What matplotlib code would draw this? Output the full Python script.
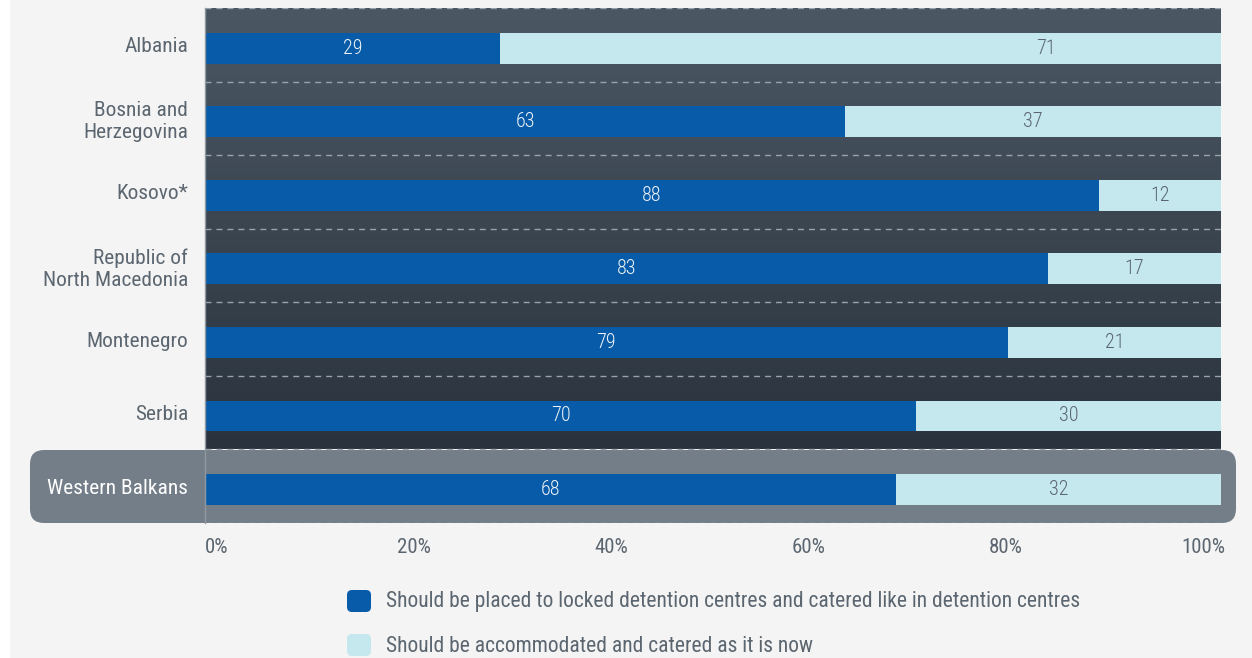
import numpy as np
import matplotlib
matplotlib.use("Agg")
import matplotlib.pyplot as plt
from matplotlib import font_manager as fm
from matplotlib.patches import FancyBboxPatch, Rectangle
from matplotlib.colors import LinearSegmentedColormap
from matplotlib.transforms import ScaledTranslation

# ---------------- data ----------------
countries = ["Albania", "Bosnia and\nHerzegovina", "Kosovo*",
             "Republic of\nNorth Macedonia", "Montenegro", "Serbia",
             "Western Balkans"]
locked = [29, 63, 88, 83, 79, 70, 68]
as_now = [71, 37, 12, 17, 21, 30, 32]
series_labels = [
    "Should be placed to locked detention centres and catered like in detention centres",
    "Should be accommodated and catered as it is now",
]
xticks = [0, 20, 40, 60, 80, 100]
xtick_labels = ["0%", "20%", "40%", "60%", "80%", "100%"]

# ---------------- style ----------------
names = {f.name for f in fm.fontManager.ttflist}
FONT = "Roboto Condensed" if "Roboto Condensed" in names else "Roboto"
plt.rcParams["font.family"] = [FONT, "DejaVu Sans"]

W, H, DPI = 1252, 658, 100
C_DARK = "#075ba8"
C_LIGHT = "#c4e8ee"
C_TEXT = "#5b6670"
C_BOX = "#737e88"
C_DASH = "#9aa3ab"
BG = "#f4f4f4"

fig = plt.figure(figsize=(W / DPI, H / DPI), dpi=DPI, facecolor="white")
fig.add_artist(Rectangle((10 / W, 0), 1 - 10 / W, 1, transform=fig.transFigure,
                         facecolor=BG, edgecolor="none", zorder=-3))

# highlighted box for the last row
fig.add_artist(FancyBboxPatch((0.30, (H - 523) / DPI), 12.06, 0.73,
                              boxstyle="round,pad=0,rounding_size=0.14",
                              transform=fig.dpi_scale_trans,
                              facecolor=C_BOX, edgecolor="none", zorder=-1))

ax = fig.add_axes([205 / W, (H - 523) / H, 1016 / W, 515 / H])
ax.set_facecolor("none")

n = len(countries)
y = np.arange(n)

# gradient background for country rows
cmap = LinearSegmentedColormap.from_list("g", ["#4b5864", "#2a333d"])
grad = np.linspace(0, 1, 256).reshape(-1, 1)
ax.imshow(grad, extent=(0, 100, n - 1.5, -0.5), aspect="auto", cmap=cmap,
          origin="upper", zorder=0, interpolation="bilinear")

for yb in np.arange(-0.5, n, 1.0):
    ax.axhline(yb, color=C_DASH, lw=1.0, dashes=(4.3, 3.6), zorder=1)

yy = y + 0.045
ax.barh(yy, locked, height=0.42, color=C_DARK, zorder=2)
ax.barh(yy, as_now, left=locked, height=0.42, color=C_LIGHT, zorder=2)

# value labels centred in segments (the reference draws Albania's light-segment
# label further right, towards the end of the bar)
light_label_nudge = {0: 18.3}
for i, (yi, a, b) in enumerate(zip(yy, locked, as_now)):
    ax.text(a / 2, yi, str(a), ha="center", va="center", color="#eef3f8",
            fontsize=14.5, fontweight="light", zorder=3)
    ax.text(a + b / 2 + light_label_nudge.get(i, 0), yi, str(b), ha="center",
            va="center", color=C_TEXT, fontsize=14.5, fontweight="light", zorder=3)

ax.set_xlim(0, 100)
ax.set_ylim(n - 0.5, -0.5)
for s in ["top", "right", "bottom"]:
    ax.spines[s].set_visible(False)
ax.spines["left"].set_color("#8f98a0")
ax.spines["left"].set_linewidth(1.0)
ax.spines["left"].set_zorder(4)

ax.set_yticks(y)
ax.set_yticklabels(countries, fontsize=15.4, color=C_TEXT, linespacing=1.2)
ax.get_yticklabels()[-1].set_color("white")
ax.tick_params(axis="y", length=0, pad=12)

ax.set_xticks(xticks)
ax.set_xticklabels(xtick_labels, fontsize=15, color=C_TEXT)
ax.tick_params(axis="x", length=0, pad=10.5)

# spread the tick labels evenly: first left-aligned, last right-aligned
fig.canvas.draw()
r = fig.canvas.get_renderer()
labs = ax.get_xticklabels()
bbs = [t.get_window_extent(r) for t in labs]
tick_px = [ax.transData.transform((v, 0))[0] for v in xticks]
c0 = tick_px[0] + bbs[0].width / 2
c1 = tick_px[-1] + 4 - bbs[-1].width / 2
k = len(xticks) - 1
for i, t in enumerate(labs):
    target = c0 + i * (c1 - c0) / k
    dx = target - tick_px[i]
    t.set_transform(t.get_transform() + ScaledTranslation(dx / DPI, 0, fig.dpi_scale_trans))

# legend
for i, (lab, col) in enumerate(zip(series_labels, [C_DARK, C_LIGHT])):
    cy = 601 + i * 44
    fig.add_artist(FancyBboxPatch((347 / DPI, (H - cy - 11) / DPI), 0.24, 0.22,
                                  boxstyle="round,pad=0,rounding_size=0.05",
                                  transform=fig.dpi_scale_trans,
                                  facecolor=col, edgecolor="none"))
    fig.text(386 / W, (H - cy - 1) / H, lab, ha="left", va="center",
             fontsize=15.5, color=C_TEXT)

fig.savefig("out.png", dpi=DPI, facecolor=fig.get_facecolor())
